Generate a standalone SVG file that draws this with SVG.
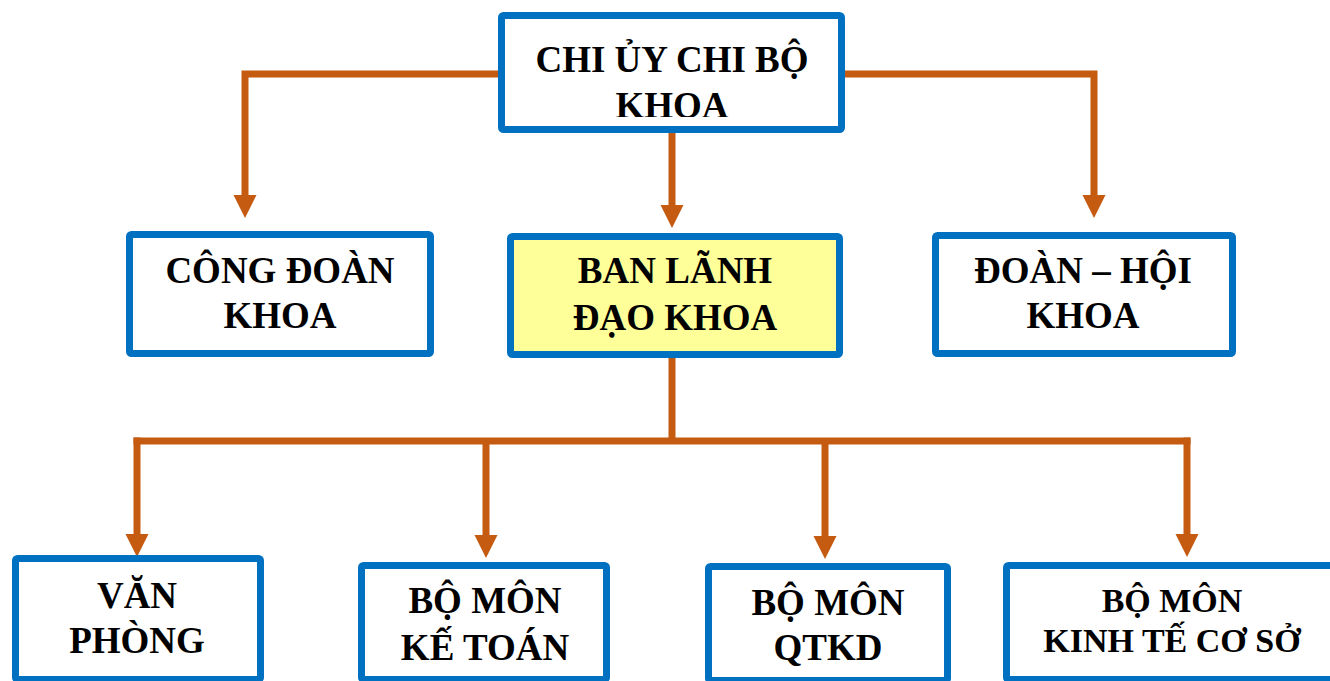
<svg xmlns="http://www.w3.org/2000/svg" width="1330" height="681" viewBox="0 0 1330 681">
  <style>
    .box { fill: #FFFFFF; stroke: #0070C0; stroke-width: 7; }
    .lead { fill: #FFFF99; }
    .t { font-family: "Liberation Serif", "Times New Roman", serif; font-weight: bold; font-size: 37px; fill: #000000; text-anchor: middle; }
    .sm { font-size: 34px; }
    .conn { fill: none; stroke: #C55A11; stroke-width: 7; stroke-linejoin: miter; stroke-linecap: butt; }
  </style>
  <defs>
    <marker id="arrow" markerUnits="userSpaceOnUse" markerWidth="24" markerHeight="24" viewBox="0 0 24 24" refX="1" refY="12" orient="auto">
      <path d="M0,0.5 L23,12 L0,23.5 Z" fill="#C55A11"/>
    </marker>
    <clipPath id="topclip">
      <rect x="505" y="19" width="333" height="98"/>
    </clipPath>
  </defs>
  <rect width="1330" height="681" fill="#FFFFFF"/>

  <g id="connectors">
    <path class="conn" d="M672,133 V206" marker-end="url(#arrow)"/>
    <path class="conn" d="M498,74 H245 V196" marker-end="url(#arrow)"/>
    <path class="conn" d="M845,74 H1094 V196" marker-end="url(#arrow)"/>
    <path class="conn" d="M672,358 V441"/>
    <path class="conn" d="M133.5,441 H1190.5"/>
    <path class="conn" d="M137,437.5 V535" marker-end="url(#arrow)"/>
    <path class="conn" d="M486,441 V536" marker-end="url(#arrow)"/>
    <path class="conn" d="M825,441 V537" marker-end="url(#arrow)"/>
    <path class="conn" d="M1187,437.5 V535" marker-end="url(#arrow)"/>
  </g>

  <g id="chi-uy">
    <rect class="box" x="501.5" y="15.5" width="340" height="114" rx="2"/>
    <g clip-path="url(#topclip)">
      <text class="t" x="672" y="72">CHI ỦY CHI BỘ</text>
      <text class="t" x="672" y="118">KHOA</text>
    </g>
  </g>

  <g id="cong-doan">
    <rect class="box" x="129.5" y="234.5" width="301" height="119" rx="2"/>
    <text class="t" x="280" y="283">CÔNG ĐOÀN</text>
    <text class="t" x="280" y="328">KHOA</text>
  </g>

  <g id="ban-lanh-dao">
    <rect class="box lead" x="510.5" y="236.5" width="329" height="118" rx="2"/>
    <text class="t" x="675" y="283">BAN LÃNH</text>
    <text class="t" x="675" y="330">ĐẠO KHOA</text>
  </g>

  <g id="doan-hoi">
    <rect class="box" x="935.5" y="235.5" width="297" height="118" rx="2"/>
    <text class="t" x="1083" y="283">ĐOÀN – HỘI</text>
    <text class="t" x="1083" y="328">KHOA</text>
  </g>

  <g id="van-phong">
    <rect class="box" x="15.5" y="558.5" width="245" height="121" rx="2"/>
    <text class="t" x="137" y="608">VĂN</text>
    <text class="t" x="137" y="653">PHÒNG</text>
  </g>

  <g id="bm-ke-toan">
    <rect class="box" x="361.5" y="565.5" width="245" height="114" rx="2"/>
    <text class="t" x="485" y="613">BỘ MÔN</text>
    <text class="t" x="485" y="660">KẾ TOÁN</text>
  </g>

  <g id="bm-qtkd">
    <rect class="box" x="708.5" y="566.5" width="239" height="114" rx="2"/>
    <text class="t" x="828" y="615">BỘ MÔN</text>
    <text class="t" x="828" y="660">QTKD</text>
  </g>

  <g id="bm-kinh-te-co-so">
    <rect class="box" x="1006.5" y="565.5" width="340" height="114" rx="2"/>
    <text class="t sm" x="1172" y="612">BỘ MÔN</text>
    <text class="t sm" x="1172" y="652">KINH TẾ CƠ SỞ</text>
  </g>
</svg>
